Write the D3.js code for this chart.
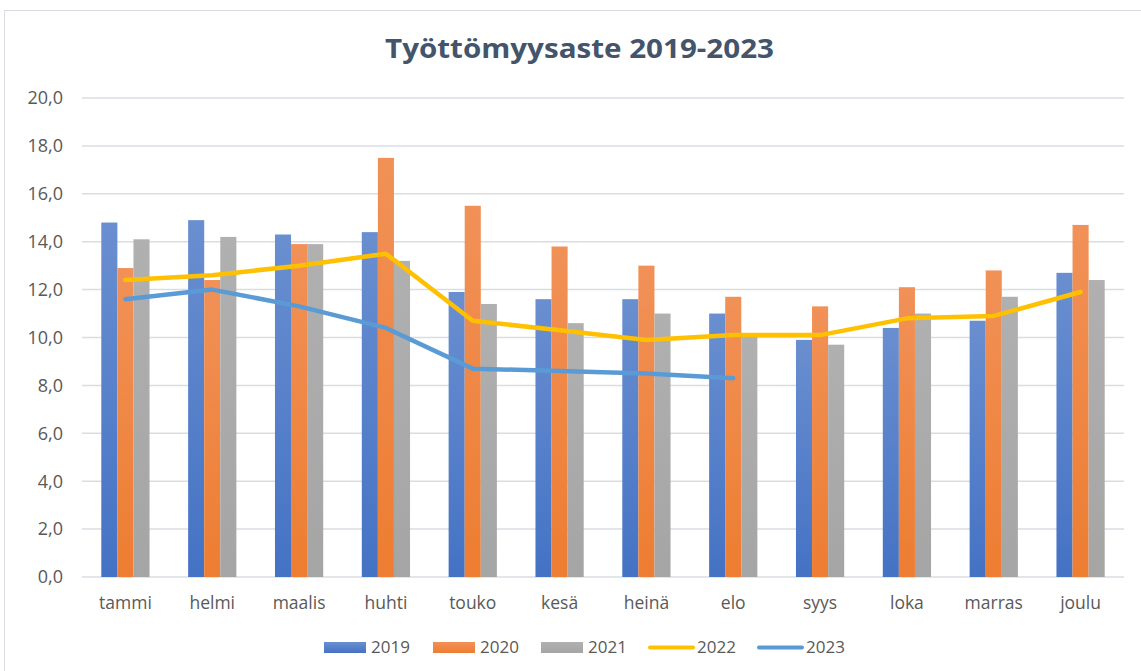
<!DOCTYPE html>
<html><head><meta charset="utf-8">
<script src="https://cdn.jsdelivr.net/npm/d3@7"></script>
<style>body{margin:0;background:#fff;} svg{display:block;}</style>
</head><body>
<svg id="c" width="1141" height="671"></svg>
<script>
const months = ["tammi","helmi","maalis","huhti","touko","kesä","heinä","elo","syys","loka","marras","joulu"];
const y2019 = [14.8,14.9,14.3,14.4,11.9,11.6,11.6,11.0,9.9,10.4,10.7,12.7];
const y2020 = [12.9,12.4,13.9,17.5,15.5,13.8,13.0,11.7,11.3,12.1,12.8,14.7];
const y2021 = [14.1,14.2,13.9,13.2,11.4,10.6,11.0,10.1,9.7,11.0,11.7,12.4];
const y2022 = [12.4,12.6,13.0,13.5,10.7,10.3,9.9,10.1,10.1,10.8,10.9,11.9];
const y2023 = [11.6,12.0,11.3,10.4,8.7,8.6,8.5,8.3];
const yTicks = [0,2,4,6,8,10,12,14,16,18,20];
const title = "Työttömyysaste 2019-2023";

const svg = d3.select("#c");
svg.append("rect").attr("x",4.5).attr("y",10.5).attr("width",1150).attr("height",680)
  .attr("fill","#fff").attr("stroke","#d9dde3").attr("stroke-width",1);

const defs = svg.append("defs");
function grad(id, topC, bottomC){
  const g = defs.append("linearGradient").attr("id",id).attr("x1",0).attr("y1",0).attr("x2",0).attr("y2",1);
  g.append("stop").attr("offset","0%").attr("stop-color",topC);
  g.append("stop").attr("offset","100%").attr("stop-color",bottomC);
}
grad("g2019","#6a8fd0","#4472c4");
grad("g2020","#f19158","#ed7d31");
grad("g2021","#b0b0b0","#a5a5a5");

const pLeft = 82, pRight = 1124, pTop = 98, pBottom = 577;
const x = d3.scaleBand().domain(months).range([pLeft,pRight]);
const y = d3.scaleLinear().domain([0,20]).range([pBottom,pTop]);
const barSeries = [{k:"2019",v:y2019,f:"url(#g2019)"},{k:"2020",v:y2020,f:"url(#g2020)"},{k:"2021",v:y2021,f:"url(#g2021)"}];
const xs = d3.scaleBand().domain(barSeries.map(d=>d.k)).range([0,x.bandwidth()]).paddingOuter(1.2).paddingInner(0);

// gridlines
svg.append("g").selectAll("line").data(yTicks).join("line")
  .attr("x1",pLeft).attr("x2",pRight).attr("y1",d=>y(d)).attr("y2",d=>y(d))
  .attr("stroke","#d9dde3").attr("stroke-width",1.5);

const FONT = "'Open Sans', sans-serif";
// y labels
const fmt = d => d.toFixed(1).replace(".",",");
svg.append("g").selectAll("text").data(yTicks).join("text")
  .attr("x",63).attr("y",d=>y(d)).attr("dy","0.35em").attr("text-anchor","end")
  .attr("font-family",FONT).attr("font-size",18).attr("fill","#595959")
  .text(fmt);

// x labels
svg.append("g").selectAll("text").data(months).join("text")
  .attr("x",d=>x(d)+x.bandwidth()/2).attr("y",609).attr("text-anchor","middle")
  .attr("font-family",FONT).attr("font-size",17.5).attr("fill","#595959")
  .text(d=>d);

// bars
barSeries.forEach(s=>{
  svg.append("g").selectAll("rect").data(s.v).join("rect")
    .attr("x",(d,i)=>x(months[i])+xs(s.k)).attr("width",xs.bandwidth())
    .attr("y",d=>y(d)).attr("height",d=>y(0)-y(d)).attr("fill",s.f);
});

// lines
const line = d3.line().x((d,i)=>x(months[i])+x.bandwidth()/2).y(d=>y(d));
svg.append("path").attr("d",line(y2022)).attr("fill","none").attr("stroke","#ffc000")
  .attr("stroke-width",4.5).attr("stroke-linejoin","round").attr("stroke-linecap","round");
svg.append("path").attr("d",line(y2023)).attr("fill","none").attr("stroke","#5b9bd5")
  .attr("stroke-width",4.5).attr("stroke-linejoin","round").attr("stroke-linecap","round");

// title
svg.append("text").attr("x",579.5).attr("y",58).attr("text-anchor","middle")
  .attr("font-family",FONT).attr("font-weight","bold").attr("font-size",27)
  .attr("fill","#44546a").attr("textLength",389).attr("lengthAdjust","spacingAndGlyphs").text(title);

// legend
const legend = [
  {k:"2019",t:"bar",c:"url(#g2019)",x:324},
  {k:"2020",t:"bar",c:"url(#g2020)",x:433},
  {k:"2021",t:"bar",c:"url(#g2021)",x:541},
  {k:"2022",t:"line",c:"#ffc000",x:648},
  {k:"2023",t:"line",c:"#5b9bd5",x:757}
];
const lg = svg.append("g");
legend.forEach(d=>{
  if(d.t==="bar"){
    lg.append("rect").attr("x",d.x).attr("y",642).attr("width",42).attr("height",11).attr("fill",d.c);
    lg.append("text").attr("x",d.x+47).attr("y",647.5).attr("dy","0.35em")
      .attr("font-family",FONT).attr("font-size",17).attr("fill","#595959").text(d.k);
  } else {
    lg.append("line").attr("x1",d.x+2).attr("x2",d.x+45).attr("y1",647.5).attr("y2",647.5).attr("stroke",d.c).attr("stroke-width",4).attr("stroke-linecap","round");
    lg.append("text").attr("x",d.x+49).attr("y",647.5).attr("dy","0.35em")
      .attr("font-family",FONT).attr("font-size",17).attr("fill","#595959").text(d.k);
  }
});
</script>
</body></html>
